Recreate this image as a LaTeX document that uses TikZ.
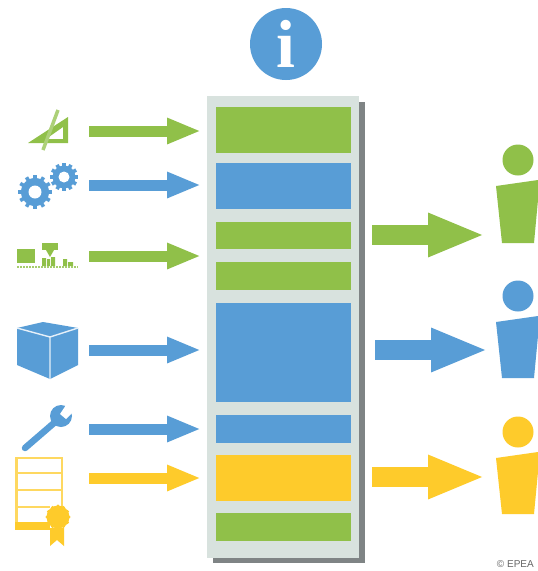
\documentclass[tikz,border=0pt]{standalone}
\usepackage{fontspec}
\setmainfont{Liberation Serif}
\newfontfamily\labelsans{Liberation Sans}
\usetikzlibrary{arrows.meta}
\definecolor{igreen}{HTML}{90C049}
\definecolor{iblue}{HTML}{589DD6}
\definecolor{iyellow}{HTML}{FECB2B}
\definecolor{icol}{HTML}{D8E2DE}
\definecolor{ishadow}{HTML}{7F8485}
\tikzset{
  bar/.style={fill=#1,draw=none,minimum width=135pt,inner sep=0pt,outer sep=0pt,anchor=north},
  inarrow/.style={draw=#1,line width=11pt,-{Triangle[length=34pt,width=24pt]}},
  outarrow/.style={draw=#1,line width=20pt,-{Triangle[length=57pt,width=40pt]}},
  head/.style={fill=#1,draw=none,circle,minimum size=31pt,inner sep=0pt},
}
\begin{document}
\begin{tikzpicture}[x=1pt,y=-1pt]
\useasboundingbox (0,0) rectangle (538,571);
\fill[white] (0,0) rectangle (538,571);
% column
\fill[ishadow] (213,102) rectangle (365,563);
\fill[icol] (207,96) rectangle (359,558);
\node[bar=igreen,minimum height=46pt] (b1) at (283.5,107) {};
\node[bar=iblue,minimum height=46pt] (b2) at (283.5,163) {};
\node[bar=igreen,minimum height=27pt] (b3) at (283.5,222) {};
\node[bar=igreen,minimum height=28pt] (b4) at (283.5,262) {};
\node[bar=iblue,minimum height=99pt] (b5) at (283.5,303) {};
\node[bar=iblue,minimum height=28pt] (b6) at (283.5,415) {};
\node[bar=iyellow,minimum height=46pt] (b7) at (283.5,455) {};
\node[bar=igreen,minimum height=28pt] (b8) at (283.5,513) {};
% info
\node[circle,fill=iblue,minimum size=72pt,inner sep=0pt] (info) at (286,44) {};
\node[text=white,font=\fontsize{68}{68}\selectfont\bfseries,inner sep=0pt] (infoi) at (286,44) {i};
% input arrows
\foreach \n/\y/\c in {a/131/igreen,b/185/iblue,c/256/igreen,d/350/iblue,e/429/iblue,f/478/iyellow}{
  \coordinate (\n s) at (89,\y);
  \coordinate (\n t) at (201,\y);
  \draw[inarrow=\c] (\n s) -- (\n t);
}
% output arrows
\coordinate (gs) at (372,235); \coordinate (gt) at (485,235);
\coordinate (hs) at (375,350); \coordinate (ht) at (488,350);
\coordinate (ks) at (372,477); \coordinate (kt) at (485,477);
\draw[outarrow=igreen] (gs) -- (gt);
\draw[outarrow=iblue] (hs) -- (ht);
\draw[outarrow=iyellow] (ks) -- (kt);
% persons
\node[head=igreen] (p1) at (518,160) {};
\fill[igreen] (496,186) -- (538,180) -- (538,200) -- (534,243) -- (502,243) -- cycle;
\node[head=iblue] (p2) at (518,296) {};
\fill[iblue] (496,322) -- (538,316) -- (538,336) -- (534,378) -- (502,378) -- cycle;
\node[head=iyellow] (p3) at (518,432) {};
\fill[iyellow] (496,458) -- (538,452) -- (538,472) -- (534,514) -- (502,514) -- cycle;
% set square and ruler
\fill[igreen,even odd rule] (28,143) -- (68,143) -- (68,117) -- cycle (46,139) -- (63,139) -- (63,127) -- cycle;
\draw[igreen!75!white,line width=3.5pt] (58,110) -- (43,150);
% gears
\foreach \cx/\cy/\ro/\ri/\h in {35/192/17/14/6.5,64/177/14/11.5/5.5}{
  \fill[iblue] (\cx,\cy) circle (\ri);
  \foreach \k in {1,...,12}{
    \draw[iblue,line width=3.6pt] (\cx,\cy) ++(\k*30:\ri-1) -- ++(\k*30:\ro-\ri+1);
  }
  \fill[white] (\cx,\cy) circle (\h);
}
% blocks
\fill[igreen] (17,249) rectangle (35,263);
\fill[igreen] (42,243) rectangle (58,250);
\fill[igreen] (46,250) -- (54,250) -- (50,257) -- cycle;
\fill[igreen] (42,258) rectangle (46,266) (47,259) rectangle (50,266) (51,257) rectangle (55,266);
\fill[igreen] (63,259) rectangle (67,266) (68,262) rectangle (73,266);
\draw[igreen!80!white,line width=2pt,dash pattern=on 2pt off 1pt] (17,267) -- (78,267);
% cube
\fill[iblue] (43,322) -- (78,328) -- (78,365) -- (50,379) -- (17,365) -- (17,328) -- cycle;
\draw[white!85!iblue,line width=1.4pt] (17,328) -- (50,337) -- (78,328) (50,337) -- (50,379);
% wrench
\draw[iblue,line width=6.5pt,line cap=round] (25,448) -- (54,423);
\fill[iblue] (61,416) circle (11);
\fill[white] (60,414) -- (66,419) -- (76,409) -- (68,402) -- cycle;
% certificate
\draw[iyellow!75!white,line width=2.4pt] (16.5,458) rectangle (62,524);
\draw[iyellow!75!white,line width=1.4pt] (17,473) -- (62,473) (17,490) -- (62,490) (17,507) -- (50,507);
\fill[iyellow] (15,522) rectangle (50,530);
\fill[iyellow] (50,528) -- (64,528) -- (64,546) -- (57,540) -- (50,546) -- cycle;
\fill[iyellow] (58,517) circle (11.5);
\foreach \k in {0,30,...,330}{\fill[iyellow] (58,517) ++(\k:11) circle (1.6);}
% credit
\node[font=\labelsans\fontsize{10}{11}\selectfont,text=black!60,inner sep=0pt,anchor=east] (credit) at (534,564) {© EPEA};
\end{tikzpicture}
\end{document}
